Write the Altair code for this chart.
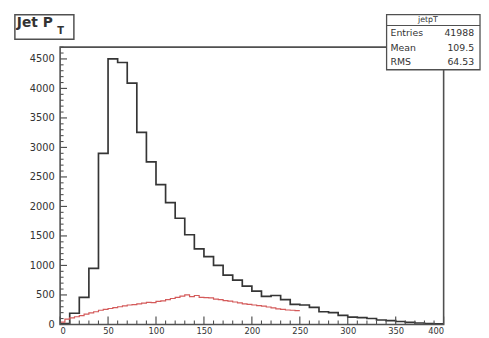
import altair as alt
import pandas as pd

# ---- data ----
black_bin_width = 10
black_counts = [15, 190, 460, 950, 2900, 4500, 4440, 4090, 3255, 2755,
                2370, 2065, 1800, 1520, 1280, 1150, 1000, 835, 750, 650,
                565, 475, 490, 420, 340, 330, 290, 215, 200, 155,
                125, 115, 100, 75, 65, 50, 35, 25, 15, 10]

red_bin_width = 5
red_counts = [40, 90, 110, 130, 150, 175, 195, 215, 240, 255,
              270, 285, 300, 315, 330, 335, 350, 360, 375, 370,
              390, 400, 420, 440, 460, 480, 500, 470, 490, 460,
              455, 450, 430, 420, 405, 395, 380, 365, 350, 340,
              330, 320, 310, 295, 280, 265, 255, 245, 240, 235]

x_label_values = [0, 50, 100, 150, 200, 250, 300, 350, 400]
y_label_values = [0, 500, 1000, 1500, 2000, 2500, 3000, 3500, 4000, 4500]
x_minor_values = [v for v in range(0, 401, 10) if v % 50 != 0]
y_minor_values = [v for v in range(0, 4701, 100) if v % 500 != 0]

title_main = "Jet P"
title_sub = "T"
stats_name = "jetpT"
stats_labels = ["Entries", "Mean", "RMS"]
stats_values = ["41988", "109.5", "64.53"]

# ---- tables ----
black_df = pd.DataFrame({
    "x": [i * black_bin_width for i in range(len(black_counts))] + [len(black_counts) * black_bin_width],
    "y": black_counts + [black_counts[-1]],
})
red_df = pd.DataFrame({
    "x": [i * red_bin_width for i in range(len(red_counts))] + [len(red_counts) * red_bin_width],
    "y": red_counts + [red_counts[-1]],
})

W, H = 390, 282
xs = alt.Scale(domain=[0, 400], nice=False, zero=False)
ys = alt.Scale(domain=[0, 4700], nice=False)
FONT = "DejaVu Sans"
TXT = "#333333"
LINE = "#505050"

x_axis = alt.Axis(values=x_label_values, format="d", ticks=False, tickSize=0, domain=False, grid=False,
                  labelFont=FONT, labelFontSize=8.5, labelColor=TXT, labelPadding=2)
y_axis = alt.Axis(values=y_label_values, format="d", ticks=False, tickSize=0, domain=False, grid=False,
                  labelFont=FONT, labelFontSize=10, labelColor=TXT, labelPadding=6)

one = pd.DataFrame({"a": [0]})

black = alt.Chart(black_df).mark_line(interpolate="step-after", color="#353535", strokeWidth=1.7).encode(
    x=alt.X("x:Q", scale=xs, title=None, axis=x_axis),
    y=alt.Y("y:Q", scale=ys, title=None, axis=y_axis),
)
red = alt.Chart(red_df).mark_line(interpolate="step-after", color="#d45a5a", strokeWidth=1.2).encode(
    x=alt.X("x:Q", scale=xs, title=None, axis=x_axis),
    y=alt.Y("y:Q", scale=ys, title=None, axis=y_axis),
)

frame = alt.Chart(one).mark_rect(fillOpacity=0, stroke=LINE, strokeWidth=1.6).encode(
    x=alt.value(0), x2=alt.value(W), y=alt.value(0), y2=alt.value(H))

xmaj = alt.Chart(pd.DataFrame({"v": x_label_values})).mark_rule(color=LINE, strokeWidth=1.2).encode(
    x=alt.X("v:Q", scale=xs, title=None, axis=x_axis), y=alt.value(H), y2=alt.value(H - 8))
xmin = alt.Chart(pd.DataFrame({"v": x_minor_values})).mark_rule(color=LINE, strokeWidth=1.1).encode(
    x=alt.X("v:Q", scale=xs, title=None, axis=x_axis), y=alt.value(H), y2=alt.value(H - 4))
ymaj = alt.Chart(pd.DataFrame({"v": y_label_values})).mark_rule(color=LINE, strokeWidth=1.2).encode(
    y=alt.Y("v:Q", scale=ys, title=None, axis=y_axis), x=alt.value(0), x2=alt.value(7))
ymin = alt.Chart(pd.DataFrame({"v": y_minor_values})).mark_rule(color=LINE, strokeWidth=1.1).encode(
    y=alt.Y("v:Q", scale=ys, title=None, axis=y_axis), x=alt.value(0), x2=alt.value(3.5))

# title box
tbox = alt.Chart(one).mark_rect(fill="white", stroke=LINE, strokeWidth=1.5).encode(
    x=alt.value(-46), x2=alt.value(14), y=alt.value(-33), y2=alt.value(-8))
t1 = alt.Chart(pd.DataFrame({"t": [title_main]})).mark_text(
    font=FONT, fontSize=14, fontWeight="bold", color=TXT, align="left", baseline="alphabetic").encode(
    x=alt.value(-44), y=alt.value(-20), text="t:N")
t2 = alt.Chart(pd.DataFrame({"t": [title_sub]})).mark_text(
    font=FONT, fontSize=10, fontWeight="bold", color=TXT, align="left", baseline="alphabetic").encode(
    x=alt.value(-3), y=alt.value(-13), text="t:N")

# stats box
sbox = alt.Chart(one).mark_rect(fill="white", stroke=LINE, strokeWidth=1.3).encode(
    x=alt.value(332), x2=alt.value(427), y=alt.value(-33), y2=alt.value(23))
ssep = alt.Chart(one).mark_rule(color=LINE, strokeWidth=1.1).encode(
    x=alt.value(332), x2=alt.value(427), y=alt.value(-22))
sname = alt.Chart(pd.DataFrame({"t": [stats_name]})).mark_text(
    font=FONT, fontSize=8, color=TXT, align="center", baseline="middle").encode(
    x=alt.value(374), y=alt.value(-27.5), text="t:N")

row_y = [-14.5, 0.5, 15.5]
stat_layers = []
for lab, val, yy in zip(stats_labels, stats_values, row_y):
    d = pd.DataFrame({"lab": [lab], "val": [val]})
    stat_layers.append(alt.Chart(d).mark_text(
        font=FONT, fontSize=9.5, color=TXT, align="left", baseline="middle").encode(
        x=alt.value(336), y=alt.value(yy), text="lab:N"))
    stat_layers.append(alt.Chart(d).mark_text(
        font=FONT, fontSize=9.5, color=TXT, align="right", baseline="middle").encode(
        x=alt.value(421), y=alt.value(yy), text="val:N"))

chart = alt.layer(
    black, red, frame, xmaj, xmin, ymaj, ymin, tbox, t1, t2, sbox, ssep, sname, *stat_layers
).properties(
    width=W, height=H,
    padding={"left": 53, "top": 37, "right": 38, "bottom": 11},
    autosize=alt.AutoSizeParams(type="none"),
).configure_view(strokeWidth=0)

chart.save("out.html", embed_options={"renderer": "svg", "actions": False})
